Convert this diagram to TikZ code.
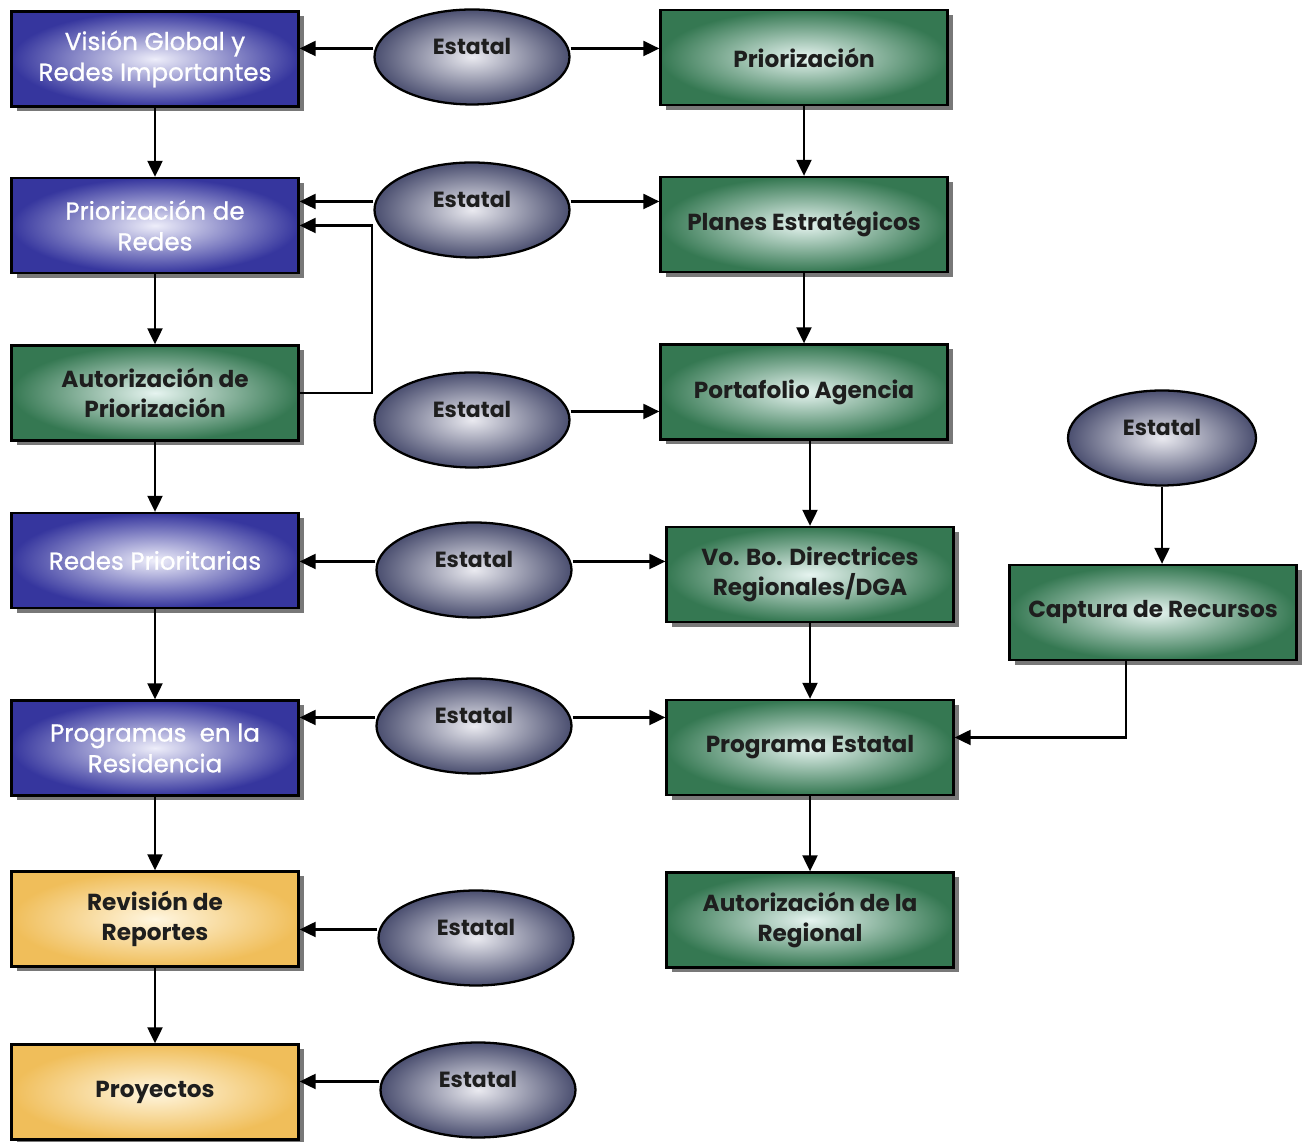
\documentclass[tikz,border=0pt]{standalone}
\usepackage{fontspec}
\setmainfont{Poppins}
\newfontfamily\bluefont[FakeBold=0.9]{Poppins}
\usetikzlibrary{arrows.meta, shapes.geometric, shadows}
\definecolor{navy}{HTML}{36369E}
\definecolor{navyglow}{HTML}{EEEEFA}
\definecolor{pine}{HTML}{357852}
\definecolor{pineglow}{HTML}{E6F4F0}
\definecolor{amber}{HTML}{F0BE5A}
\definecolor{amberglow}{HTML}{FFF6E0}
\definecolor{slate}{HTML}{4B4F70}
\definecolor{slateglow}{HTML}{EAEAF0}
\definecolor{ink}{HTML}{1E1E1E}

\begin{document}
\begin{tikzpicture}[>={Triangle[length=3.2mm, width=3mm]},
  box/.style={rectangle, draw=black, line width=1.3pt,
    minimum width=5.74cm, minimum height=1.9cm, align=center,
    font=\bfseries\fontsize{13.2}{17.5}\selectfont,
    drop shadow={shadow xshift=0.1cm, shadow yshift=-0.1cm,
      fill=black!75, opacity=0.7}},
  bluebox/.style={box, inner color=navyglow, outer color=navy, text=white,
    font=\bluefont\fontsize{14}{17.5}\selectfont},
  greenbox/.style={box, inner color=pineglow, outer color=pine, text=ink},
  goldbox/.style={box, inner color=amberglow, outer color=amber, text=ink},
  estatal/.style={ellipse, draw=black, line width=1.3pt,
    minimum width=3.9cm, minimum height=1.9cm,
    inner color=slateglow, outer color=slate, text=ink,
    font=\bfseries\fontsize{12.5}{17}\selectfont,
    text height=0.25cm, text depth=0.35cm},
  flow/.style={->, line width=1.2pt, draw=black}]

% Page
\useasboundingbox[fill=white] (0,0) rectangle (26.12,22.84);

% --- Left column ---
\node[bluebox] (vision) at (3.1,21.66) {Visión Global y\\Redes Importantes};
\node[bluebox] (prioredes) at (3.1,18.33) {Priorización de\\Redes};
\node[greenbox] (autprior) at (3.1,14.98) {Autorización de\\Priorización};
\node[bluebox] (redesprio) at (3.1,11.63) {Redes Prioritarias};
\node[bluebox] (programas) at (3.1,7.88) {Programas\ \ en la\\Residencia};
\node[goldbox] (revision) at (3.1,4.46) {Revisión de\\Reportes};
\node[goldbox] (proyectos) at (3.1,1.0) {Proyectos};

% --- Right column ---
\node[greenbox] (prioriz) at (16.08,21.69) {Priorización};
\node[greenbox] (planes) at (16.08,18.35) {Planes Estratégicos};
\node[greenbox] (portafolio) at (16.08,15.0) {Portafolio Agencia};
\node[greenbox] (vobo) at (16.2,11.35) {Vo. Bo. Directrices\\Regionales/DGA};
\node[greenbox] (progest) at (16.2,7.89) {Programa Estatal};
\node[greenbox] (autreg) at (16.2,4.44) {Autorización de la\\Regional};
\node[greenbox] (captura) at (23.06,10.59) {Captura de Recursos};

% --- Estatal ellipses ---
\node[estatal] (est1) at (9.44,21.70) {Estatal};
\node[estatal] (est2) at (9.44,18.64) {Estatal};
\node[estatal] (est3) at (9.44,14.44) {Estatal};
\node[estatal] (est4) at (9.48,11.44) {Estatal};
\node[estatal] (est5) at (9.48,8.32) {Estatal};
\node[estatal] (est6) at (9.52,4.08) {Estatal};
\node[estatal] (est7) at (9.56,1.04) {Estatal};
\node[estatal, minimum width=3.76cm] (est8) at (23.24,14.08) {Estatal};

% Estatal -> left boxes
\foreach \e/\b in {est1/vision, est2/prioredes, est4/redesprio,
                   est5/programas, est6/revision, est7/proyectos}
  \draw[flow] ([yshift=1.7mm]\e.west) -- ([yshift=1.7mm]\e.west -| \b.east);

% Estatal -> right boxes
\foreach \e/\b in {est1/prioriz, est2/planes, est3/portafolio,
                   est4/vobo, est5/progest}
  \draw[flow] ([yshift=1.7mm]\e.east) -- ([yshift=1.7mm]\e.east -| \b.west);

% Vertical flow
\foreach \a/\b in {vision/prioredes, prioredes/autprior, autprior/redesprio,
                   redesprio/programas, programas/revision, revision/proyectos,
                   prioriz/planes, planes/portafolio, vobo/progest, progest/autreg}
  \draw[flow] (\a) -- (\b);
\draw[flow] (portafolio.south -| vobo) -- (vobo);

% Feedback to Priorizacion de Redes
\draw[flow] (autprior.east) -- ++(1.44,0) |- (prioredes.east);

% Recursos
\draw[flow] (est8) -- (est8 |- captura.north);
\draw[flow] ([xshift=-0.54cm]captura.south) |- ([yshift=0.2cm]progest.east);

\end{tikzpicture}
\end{document}
